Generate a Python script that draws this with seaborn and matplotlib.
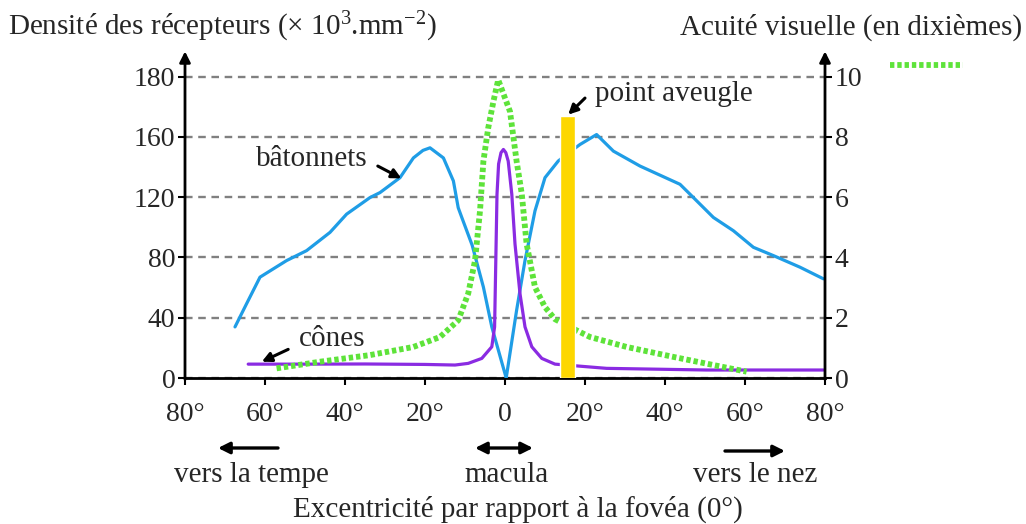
import numpy as np
import pandas as pd
import seaborn as sns
import matplotlib.pyplot as plt
from matplotlib.lines import Line2D

# ---------------- data ----------------
rods_x = [-67.5, -64.6, -61.25, -54.6, -49.6, -43.75, -39.6, -33.75, -31.25, -26.25,
          -22.9, -20.5, -18.75, -15.4, -12.9, -11.7, -10.8, -8.2, -5.4, -3.3,
          0.3, 2.9, 5.0, 7.5, 10.0, 13.3, 15.4, 18.75, 22.9, 27.1, 33.75, 43.75,
          47.1, 52.1, 57.1, 62.1, 67.1, 73.75, 79.6]
rods_y = [33.9, 49.3, 66.9, 77.9, 84.5, 96.6, 108.7, 119.7, 123.0, 132.9,
          146.0, 151.0, 152.7, 146.0, 130.7, 113.0, 106.5, 88.0, 60.3, 33.9,
          0.0, 44.9, 77.9, 110.9, 132.9, 143.9, 148.3, 154.9, 161.5, 150.5, 140.6, 128.5,
          119.7, 106.5, 97.7, 86.7, 81.2, 73.5, 65.8]

cones_x = [-64.2, -50, -35, -20, -12.5, -9.2, -5.8, -3.3, -2.6, -2.3, -2.0, -1.6,
           -1.0, -0.4, 0.2, 0.8, 1.7, 2.5, 3.75, 5.0, 6.7, 9.2, 12.5, 25.4, 50.4, 79.6]
cones_y = [9.2, 9.2, 9.3, 9.0, 8.6, 9.7, 13.0, 20.7, 33.9, 77.9, 121.9, 142.0,
           149.5, 151.6, 149.5, 143.9, 121.9, 88.9, 55.9, 33.9, 20.7, 13.0, 9.2, 6.4, 5.3, 5.3]

acuity_x = [-57.1, -46.25, -33.75, -22.9, -16.25, -11.7, -9.2, -7.5, -6.25, -5.4,
            -4.2, -2.9, -1.7, 1.25, 2.9, 4.2, 5.4, 7.5, 10.0, 12.5, 17.9, 21.25,
            30.4, 42.1, 52.1, 60.4]
acuity_y = [0.32, 0.54, 0.76, 1.03, 1.36, 1.91, 2.8, 3.89, 5.54, 7.19,
            8.29, 9.17, 9.89, 8.84, 7.19, 6.1, 4.45, 3.01, 2.35, 1.95, 1.58, 1.36,
            1.03, 0.7, 0.43, 0.21]

blind_spot_x = [13.8, 17.5]
blind_spot_top = 8.68

x_ticks = [-80, -60, -40, -20, 0, 20, 40, 60, 80]
x_tick_labels = ["80°", "60°", "40°", "20°", "0", "20°", "40°", "60°", "80°"]
left_ticks = [0, 40, 80, 120, 160, 200]
left_tick_labels = ["0", "40", "80", "120", "160", "180"]
right_ticks = [0, 2, 4, 6, 8, 10]
right_tick_labels = ["0", "2", "4", "6", "8", "10"]

# ---------------- style ----------------
sns.set_style("white")
plt.rcParams["font.family"] = ["Liberation Serif", "DejaVu Serif"]
plt.rcParams["mathtext.fontset"] = "custom"
plt.rcParams["mathtext.rm"] = "Liberation Serif"
plt.rcParams["mathtext.it"] = "Liberation Serif:italic"

BLUE = "#1f9de6"
PURPLE = "#8a2be2"
GREEN = "#5ee33a"
YELLOW = "#fdd700"
GRID = "#808080"
FS = 20
FT = 21

W, H = 1026, 524
fig = plt.figure(figsize=(W / 100, H / 100), dpi=100)
ax = fig.add_axes([185 / W, 1 - 378 / H, 640 / W, 303 / H])
ax2 = ax.twinx()

df_rods = pd.DataFrame({"x": rods_x, "y": rods_y})
df_cones = pd.DataFrame({"x": cones_x, "y": cones_y})
df_acu = pd.DataFrame({"x": acuity_x, "y": acuity_y})

sns.lineplot(data=df_rods, x="x", y="y", ax=ax, color=BLUE, lw=2.3,
             estimator=None, sort=False, zorder=3)
sns.lineplot(data=df_cones, x="x", y="y", ax=ax, color=PURPLE, lw=2.3,
             estimator=None, sort=False, zorder=3)
sns.lineplot(data=df_acu, x="x", y="y", ax=ax2, color=GREEN, lw=4.2,
             linestyle=(0, (0.75, 0.5)), estimator=None, sort=False, zorder=3)
ax2.bar([(blind_spot_x[0] + blind_spot_x[1]) / 2], [blind_spot_top],
        width=blind_spot_x[1] - blind_spot_x[0], color=YELLOW, zorder=4)

ax.set_xlim(-80, 80)
ax.set_ylim(0, 201)
ax2.set_ylim(0, 10.05)

ax.set_xticks(x_ticks)
ax.set_xticklabels(x_tick_labels, fontsize=FS)
ax.set_yticks(left_ticks)
ax.set_yticklabels(left_tick_labels, fontsize=FS)
ax2.set_yticks(right_ticks)
ax2.set_yticklabels(right_tick_labels, fontsize=FS)
ax.set_xlabel("")
ax.set_ylabel("")
ax2.set_ylabel("")

ax.grid(axis="y", color=GRID, linestyle=(0, (3.2, 2.4)), lw=1.7)
ax.grid(axis="x", visible=False)
ax.set_axisbelow(True)

for a in (ax, ax2):
    for s in ("top", "left", "right"):
        a.spines[s].set_visible(False)
ax.spines["bottom"].set_visible(True)
ax.spines["bottom"].set_color("black")
ax.spines["bottom"].set_linewidth(2)
ax2.spines["bottom"].set_visible(False)

ax.tick_params(axis="x", direction="out", length=5, width=1.5, color="black",
               pad=12, bottom=True)
ax.tick_params(axis="y", direction="out", length=5, width=1.5, color="black",
               pad=2, left=True)
ax2.tick_params(axis="y", direction="out", length=5, width=1.5, color="black",
                pad=2, right=True)

# axis arrows
for xf in (0, 1):
    ax.annotate("", xy=(xf, 1.078), xytext=(xf, -0.005), xycoords="axes fraction",
                textcoords="axes fraction",
                arrowprops=dict(arrowstyle="-|>", lw=2, color="black",
                                mutation_scale=16, shrinkA=0, shrinkB=0),
                annotation_clip=False)

# annotations (text and pointer drawn separately)
ptr = dict(arrowstyle="-|>", lw=2.2, color="black", mutation_scale=14,
           shrinkA=0, shrinkB=0)
ax.text(-48.3, 140.6, "bâtonnets", fontsize=FT, ha="center", va="baseline")
ax.annotate("", xy=(-25.9, 132.4), xytext=(-31.8, 140.6), arrowprops=ptr)
ax.text(-43.3, 21.1, "cônes", fontsize=FT, ha="center", va="baseline")
ax.annotate("", xy=(-60.8, 10.8), xytext=(-54.2, 19.0), arrowprops=ptr)
ax.text(22.5, 184.0, "point aveugle", fontsize=FT, ha="left", va="baseline")
ax.annotate("", xy=(15.8, 174.7), xytext=(20.0, 185.7), arrowprops=ptr)


def fx(px):
    return px / W


def fy(py):
    return 1 - py / H


fig.text(fx(8), fy(35), "Densité des récepteurs (× 10$^{3}$.mm$^{-2}$)",
         fontsize=FT, ha="left", va="baseline")
fig.text(fx(1022), fy(35), "Acuité visuelle (en dixièmes)",
         fontsize=FT, ha="right", va="baseline")

fig.add_artist(Line2D([fx(890), fx(963)], [fy(65), fy(65)], color=GREEN, lw=4.2,
                      linestyle=(0, (0.75, 0.5))))

arrow_kw = dict(arrowstyle="-|>", lw=2.4, color="black", mutation_scale=17,
                shrinkA=0, shrinkB=0)
fig.add_artist(plt.Annotation("", xy=(fx(218), fy(448)), xytext=(fx(278), fy(448)),
                              xycoords="figure fraction", textcoords="figure fraction",
                              arrowprops=arrow_kw))
fig.add_artist(plt.Annotation("", xy=(fx(475), fy(448)), xytext=(fx(533), fy(448)),
                              xycoords="figure fraction", textcoords="figure fraction",
                              arrowprops=dict(arrow_kw, arrowstyle="<|-|>")))
fig.add_artist(plt.Annotation("", xy=(fx(785), fy(451)), xytext=(fx(725), fy(451)),
                              xycoords="figure fraction", textcoords="figure fraction",
                              arrowprops=arrow_kw))

fig.text(fx(251), fy(482), "vers la tempe", fontsize=FT, ha="center", va="baseline")
fig.text(fx(507), fy(482), "macula", fontsize=FT, ha="center", va="baseline")
fig.text(fx(755), fy(482), "vers le nez", fontsize=FT, ha="center", va="baseline")
fig.text(fx(518), fy(517), "Excentricité par rapport à la fovéa (0°)",
         fontsize=FT, ha="center", va="baseline")

fig.savefig("out.png", dpi=100)
